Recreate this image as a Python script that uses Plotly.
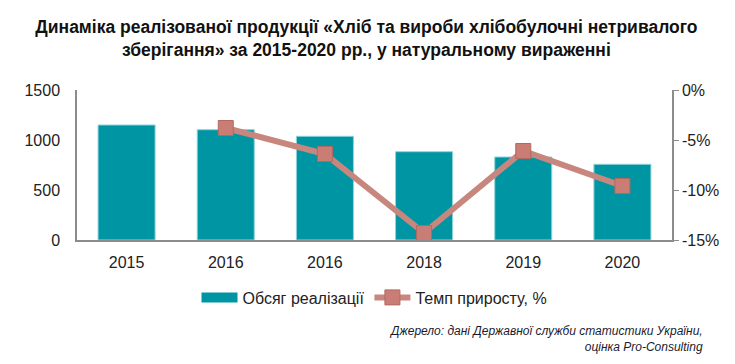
import plotly.graph_objects as go

categories = ["2015", "2016", "2016", "2018", "2019", "2020"]
sales_volume = [1150, 1103, 1037, 883, 830, 757]
growth_rate = [None, -3.8, -6.4, -14.3, -6.1, -9.6]

left_ticks = [0, 500, 1000, 1500]
right_ticks = [0, -5, -10, -15]
right_tick_labels = ["0%", "-5%", "-10%", "-15%"]

xpos = list(range(len(categories)))

BAR_COLOR = "#0095a3"

fig = go.Figure()
fig.add_trace(go.Bar(
    x=xpos, y=sales_volume, name="Обсяг реалізації",
    marker=dict(color=BAR_COLOR, line=dict(color="#8fd3da", width=1)),
    width=0.575, yaxis="y", showlegend=False,
))
# legend-only entry to get the wide rectangular swatch
fig.add_trace(go.Scatter(
    x=[None], y=[None], name="Обсяг реалізації", mode="lines",
    line=dict(color=BAR_COLOR, width=10), yaxis="y",
))
fig.add_trace(go.Scatter(
    x=xpos, y=growth_rate, name="Темп приросту, %", mode="lines+markers",
    line=dict(color="#c8877e", width=6),
    marker=dict(symbol="square", size=15, color="#c97d74",
                line=dict(color="#b5685f", width=1)),
    yaxis="y2", connectgaps=False,
))

fig.update_layout(
    width=727, height=356,
    margin=dict(l=69, r=63, t=82, b=124),
    paper_bgcolor="white", plot_bgcolor="white",
    font=dict(family="Liberation Sans, Arial, sans-serif", color="#222222", size=16),
    title=dict(
        text="Динаміка реалізованої продукції «Хліб та вироби хлібобулочні нетривалого<br>зберігання» за 2015-2020 рр., у натуральному вираженні",
        x=0.493, xanchor="center", y=0.929, yanchor="top",
        font=dict(family="Liberation Sans Narrow, Arial Narrow, Liberation Sans, Arial, sans-serif",
                  size=17.5, color="#111111", weight="bold"),
    ),
    xaxis=dict(
        tickvals=xpos, ticktext=categories, range=[-0.5, 5.5],
        showline=True, linecolor="#8c8c8c", linewidth=2, ticks="",
        showgrid=False, zeroline=False, tickfont=dict(size=16, color="#222222"),
        ticklabelstandoff=7,
    ),
    yaxis=dict(
        range=[0, 1500], tickvals=left_ticks, showline=True, linecolor="#8c8c8c",
        linewidth=1.5, showgrid=False, zeroline=False, ticks="",
        tickfont=dict(size=16, color="#222222"), ticklabelstandoff=12,
    ),
    yaxis2=dict(
        range=[-15, 0], tickvals=right_ticks, ticktext=right_tick_labels,
        overlaying="y", side="right", showline=True, linecolor="#8c8c8c",
        linewidth=1.5, showgrid=False, zeroline=False, ticks="outside",
        ticklen=5, tickcolor="#8c8c8c", tickfont=dict(size=16, color="#222222"),
    ),
    legend=dict(
        orientation="h", x=0.5, xanchor="center", y=-0.27, yanchor="top",
        font=dict(size=16, color="#222222"), bgcolor="rgba(0,0,0,0)",
        itemwidth=36, traceorder="normal",
    ),
    showlegend=True,
)

fig.add_annotation(
    text="<i>Джерело: дані Державної служби статистики України,<br>оцінка Pro-Consulting</i>",
    xref="paper", yref="paper", x=1.055, y=-0.546, xanchor="right", yanchor="top",
    align="right", showarrow=False,
    font=dict(size=12, color="#1a1a2e", family="Liberation Sans, Arial, sans-serif"),
)

fig.write_html("out.html")
